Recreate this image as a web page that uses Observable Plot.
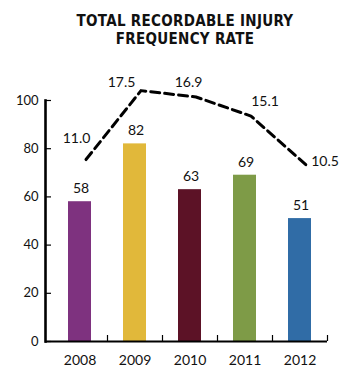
<!DOCTYPE html>
<html><head><meta charset="utf-8">
<script src="https://cdn.jsdelivr.net/npm/d3@7"></script>
<script src="https://cdn.jsdelivr.net/npm/@observablehq/plot@0.6"></script>
<style>
body{margin:0;background:#fff;}
#title{box-sizing:border-box;width:341px;height:50px;padding:12px 0 0 29px;text-align:center;font-family:"DejaVu Sans Condensed","DejaVu Sans",sans-serif;font-stretch:condensed;font-weight:bold;font-size:15px;letter-spacing:0.3px;line-height:18px;color:#111;}
</style></head>
<body>
<div id="title">TOTAL RECORDABLE INJURY<br>FREQUENCY RATE</div>
<div id="chart"></div>
<script>
const years = ["2008","2009","2010","2011","2012"];
const injuries = [58, 82, 63, 69, 51];
const rates = [11.0, 17.5, 16.9, 15.1, 10.5];
const rateLabels = ["11.0","17.5","16.9","15.1","10.5"];
const barColors = ["#7e327f","#e1b83a","#5c1226","#7e9b47","#306ca6"];
const yTicks = [0, 20, 40, 60, 80, 100];

// layout / style (not data)
const labelOffsets = [[-3.5,-21],[-13.5,-8],[-1.5,-14],[20,-15],[25,-3]];
const rateToY = r => r * 4.4 + 27.1;  // secondary scale mapped onto primary axis

const bars = years.map((y,i)=>({year:y, value:injuries[i], color:barColors[i]}));
const line = years.map((y,i)=>({year:y, rate:rates[i], yv:rateToY(rates[i]), label:rateLabels[i]}));

const font = "Lato, 'Open Sans', sans-serif";
const H = 317, mt = 50, mb = 26, ml = 45, mr = 14;
const frameH = H - mt - mb, frameW = 341 - ml - mr;

const chart = Plot.plot({
  width: 341, height: H,
  marginTop: mt, marginBottom: mb, marginLeft: ml, marginRight: mr,
  style: {fontFamily: font, fontSize: "13px", color: "#111", background: "#fff", overflow: "visible"},
  x: {type: "band", domain: years, padding: 0, insetLeft: 7},
  y: {domain: [0, 100]},
  marks: [
    Plot.barY(bars, {x: "year", y: "value", fill: "color", insetLeft: 16, insetRight: 16}),
    Plot.text(bars, {x: "year", y: "value", text: d => String(d.value), dy: -13, dx: 1, fontSize: 14, fill: "#111"}),
    Plot.line(line, {x: "year", y: "yv", dx: 6, stroke: "#000", strokeWidth: 3, strokeDasharray: "9,5"}),
    ...line.map((d,i)=>Plot.text([d], {x: "year", y: "yv", text: "label", dx: labelOffsets[i][0], dy: labelOffsets[i][1], fontSize: 14, fill: "#111"})),
    Plot.axisY({ticks: yTicks, tickSize: 0, tickPadding: 7, fontSize: 13, label: null}),
    Plot.tickY(yTicks, {y: d => d, insetRight: frameW - 6, stroke: "#000", strokeWidth: 1.2}),
    Plot.tickX(years, {x: d => d, dx: 27.5, insetTop: frameH - 6, stroke: "#000", strokeWidth: 1.2}),
    Plot.axisX({tickSize: 0, tickPadding: 14, fontSize: 14, label: null}),
    Plot.ruleY([0], {stroke: "#000", strokeWidth: 2.2}),
    Plot.frame({anchor: "left", stroke: "#000", strokeWidth: 2.6})
  ]
});
document.getElementById("chart").appendChild(chart);
</script>
</body></html>
